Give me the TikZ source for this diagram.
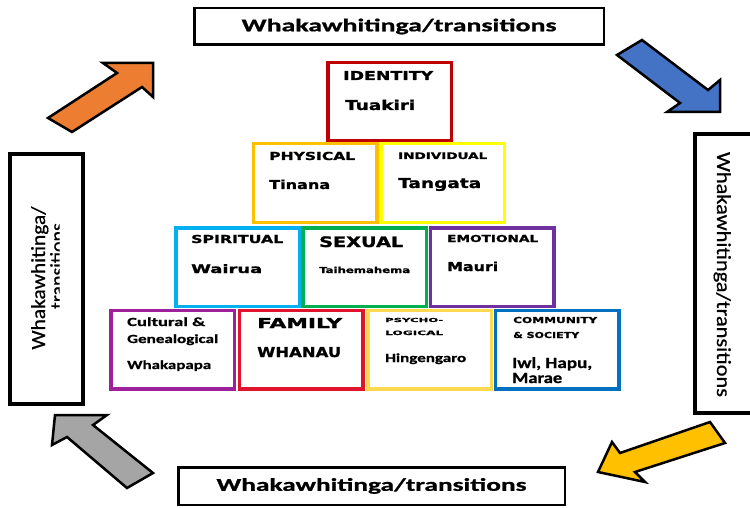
\documentclass[tikz,border=0pt]{standalone}
\usepackage{fontspec}
\usepackage{tikz}
\newfontfamily\boxfont{DejaVu Sans}[BoldFeatures={FakeBold=1.2}]
\newfontfamily\callfont{Carlito}[BoldFeatures={FakeBold=0.8}, FakeBold=0.6]
\definecolor{idRed}{RGB}{192,0,0}
\definecolor{physGold}{RGB}{255,192,0}
\definecolor{indYellow}{RGB}{255,255,0}
\definecolor{spirBlue}{RGB}{0,176,240}
\definecolor{sexGreen}{RGB}{0,176,80}
\definecolor{emoPurple}{RGB}{112,48,160}
\definecolor{culMagenta}{RGB}{158,32,155}
\definecolor{famRed}{RGB}{224,20,45}
\definecolor{psyYellow}{RGB}{255,217,80}
\definecolor{comBlue}{RGB}{0,112,192}
\definecolor{arrOrange}{RGB}{237,125,49}
\definecolor{arrBlue}{RGB}{68,114,196}
\definecolor{arrYellow}{RGB}{255,192,0}
\definecolor{arrGray}{RGB}{165,165,165}
\newcommand{\lab}[3]{{\boxfont\bfseries\fontsize{#1}{#1}\selectfont\resizebox{#2pt}{\height}{#3}}}
\newcommand{\clab}[3]{{\callfont\bfseries\fontsize{#1}{#1}\selectfont\resizebox{#2pt}{\height}{#3}}}
\tikzset{
  tier/.style={draw, line width=3.5pt, minimum width=123.5pt, minimum height=78.5pt, inner sep=0pt},
  tiertext/.style={anchor=base west, inner sep=0pt},
  frame/.style={draw, line width=2.5pt, inner sep=0pt},
  sideframe/.style={draw, line width=4pt, inner sep=0pt},
  sidetext/.style={anchor=base, inner sep=0pt, font=\callfont\fontsize{20}{24}\selectfont},
  blockarrow/.style={draw, line width=2.5pt, line join=miter},
}

\begin{document}
\begin{tikzpicture}[x=1pt,y=-1pt]
  \useasboundingbox (0,0) rectangle (750,508);
  \clip (0,0) rectangle (750,508);

  % transitions frames
  \node[frame, minimum width=409.5pt, minimum height=36.5pt] (toptr) at (399,26.5)
    {\clab{18}{315}{Whakawhitinga/transitions}};
  \node[frame, minimum width=386.5pt, minimum height=37.5pt] (bottr) at (371.5,486)
    {\clab{18}{310}{Whakawhitinga/transitions}};
  \node[sideframe, minimum width=73pt, minimum height=250pt] (lefttr) at (46.5,279) {};
  \node[sideframe, minimum width=85pt, minimum height=279pt] (righttr) at (737.5,273.5) {};

  \coordinate (leftline1) at (45,278);
  \coordinate (leftline2) at (64,266);
  \coordinate (rightline) at (717,274.5);
  \node[sidetext, rotate=90] (lefttext1) at (leftline1) {\resizebox{143pt}{\height}{Whakawhitinga/}};
  \begin{scope}
    \clip (20,150) rectangle (59.5,400);
    \node[sidetext, rotate=90] (lefttext2) at (leftline2) {transitions};
  \end{scope}
  \node[sidetext, rotate=-90] (righttext) at (rightline) {\resizebox{245pt}{\height}{Whakawhitinga/transitions}};

  % block arrows
  \draw[blockarrow, fill=arrOrange] (48,118) -- (117,73) -- (103,63) -- (153,63) -- (153,97) -- (142,87) -- (72,132) -- cycle;
  \draw[blockarrow, fill=arrBlue] (642,40) -- (708,90) -- (720,80) -- (720,112) -- (667,112) -- (680,103) -- (617,55) -- cycle;
  \draw[blockarrow, fill=arrYellow] (710,422) -- (725,443) -- (635,472) -- (645,482) -- (598,472) -- (612,442) -- (620,453) -- cycle;
  \draw[blockarrow, fill=arrGray] (55,415) -- (107,415) -- (93,425) -- (153,473) -- (127,488) -- (67,437) -- (52,445) -- cycle;

  % pyramid
  \node[tier, draw=idRed] (identity) at (389.5,102) {};
  \node[tier, draw=physGold] (physical) at (315,183) {};
  \node[tier, draw=indYellow] (individual) at (442.5,183) {};
  \node[tier, draw=spirBlue] (spiritual) at (237.5,267) {};
  \node[tier, draw=sexGreen] (sexual) at (364.5,267) {};
  \node[tier, draw=emoPurple] (emotional) at (492,267) {};
  \node[tier, draw=culMagenta] (cultural) at (172.5,349.5) {};
  \node[tier, draw=famRed] (family) at (301,349.5) {};
  \node[tier, draw=psyYellow] (psycho) at (429.5,349.5) {};
  \node[tier, draw=comBlue] (community) at (557,349.5) {};

  \node[tiertext] (identityA) at (343,80) {\lab{12.3}{90}{IDENTITY}};
  \node[tiertext] (identityB) at (345,110) {\lab{13.7}{70}{Tuakiri}};
  \node[tiertext] (physicalA) at (269,160) {\lab{11}{86}{PHYSICAL}};
  \node[tiertext] (physicalB) at (269,189) {\lab{12.3}{61}{Tinana}};
  \node[tiertext] (individualA) at (398,159) {\lab{9}{89}{INDIVIDUAL}};
  \node[tiertext] (individualB) at (398,188) {\lab{13.7}{83}{Tangata}};
  \node[tiertext] (spiritualA) at (191,243) {\lab{11}{92}{SPIRITUAL}};
  \node[tiertext] (spiritualB) at (191,273) {\lab{11.7}{71}{Wairua}};
  \node[tiertext] (sexualA) at (319,247) {\lab{14.4}{84}{SEXUAL}};
  \node[tiertext] (sexualB) at (319,273) {\lab{8.2}{91}{Taihemahema}};
  \node[tiertext] (emotionalA) at (447,242) {\lab{9.6}{91}{EMOTIONAL}};
  \node[tiertext] (emotionalB) at (447,271) {\lab{12.3}{51}{Mauri}};
  \node[tiertext] (culturalA) at (127,326) {\clab{12.4}{78}{Cultural \&}};
  \node[tiertext] (culturalB) at (127,343) {\clab{12.4}{91}{Genealogical}};
  \node[tiertext] (culturalC) at (127,369) {\clab{12.4}{84}{Whakapapa}};
  \node[tiertext] (familyA) at (257,328) {\lab{13.7}{85}{FAMILY}};
  \node[tiertext] (familyB) at (257,357) {\lab{13.7}{84}{WHANAU}};
  \node[tiertext] (psychoA) at (385,322) {\lab{5.5}{58}{PSYCHO-}};
  \node[tiertext] (psychoB) at (385,335) {\lab{6}{58}{LOGICAL}};
  \node[tiertext] (psychoC) at (385,362) {\clab{12.4}{81}{Hingengaro}};
  \node[tiertext] (communityA) at (513,323) {\lab{8.2}{84}{COMMUNITY}};
  \node[tiertext] (communityB) at (513,338) {\lab{8.2}{66}{\& SOCIETY}};
  \node[tiertext] (communityC) at (512,368) {\clab{15.5}{80}{Iwl, Hapu,}};
  \node[tiertext] (communityD) at (512,383) {\clab{15.5}{50}{Marae}};
\end{tikzpicture}
\end{document}
